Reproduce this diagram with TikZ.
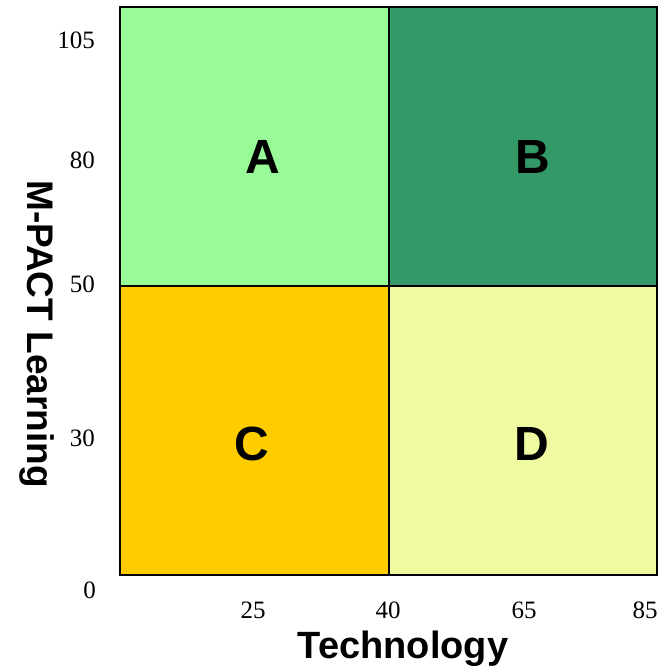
\documentclass[tikz,border=0pt]{standalone}
\usepackage{fontspec}
\setmainfont{Liberation Serif}
\newfontfamily\arialb{Liberation Sans}
\begin{document}
\begin{tikzpicture}[x=1pt,y=-1pt,
  quad/.style={draw=black,line width=2pt},
  quadlabel/.style={font=\arialb\fontsize{48}{52}\selectfont\bfseries},
  tick/.style={font=\fontsize{25}{27}\selectfont,inner sep=0pt},
  xtitle/.style={font=\arialb\fontsize{38}{42}\selectfont\bfseries,inner sep=0pt},
  ytitle/.style={font=\arialb\fontsize{37}{41}\selectfont\bfseries,inner sep=0pt}]
\definecolor{qa}{RGB}{152,251,152}
\definecolor{qb}{RGB}{51,153,102}
\definecolor{qc}{RGB}{255,204,0}
\definecolor{qd}{RGB}{240,250,160}
\useasboundingbox (0,0) rectangle (671,669);
% quadrants
\fill[qa] (120,7) rectangle (389,286);
\fill[qb] (389,7) rectangle (657,286);
\fill[qc] (120,286) rectangle (389,575);
\fill[qd] (389,286) rectangle (657,575);
\draw[quad] (120,7) rectangle (657,575);
\draw[quad] (389,7) -- (389,575);
\draw[quad] (120,286) -- (657,286);
% quadrant names
\node[quadlabel] (a) at (263,157) {A};
\node[quadlabel] (b) at (533,157) {B};
\node[quadlabel] (c) at (252,444) {C};
\node[quadlabel] (d) at (532,444) {D};
% vertical ticks
\node[tick,anchor=east] (y105) at (95,40) {105};
\node[tick,anchor=east] (y80) at (95,160) {80};
\node[tick,anchor=east] (y50) at (95,284) {50};
\node[tick,anchor=east] (y30) at (95,438) {30};
\node[tick,anchor=east] (y0) at (96,590) {0};
% horizontal ticks
\node[tick] (x25) at (253,610) {25};
\node[tick] (x40) at (388,610) {40};
\node[tick] (x65) at (524,610) {65};
\node[tick] (x85) at (645,610) {85};
% axis titles
\node[xtitle] (xt) at (403,649) {Technology};
\node[ytitle,rotate=-90] (yt) at (37,334) {M-PACT Learning};
\end{tikzpicture}
\end{document}
